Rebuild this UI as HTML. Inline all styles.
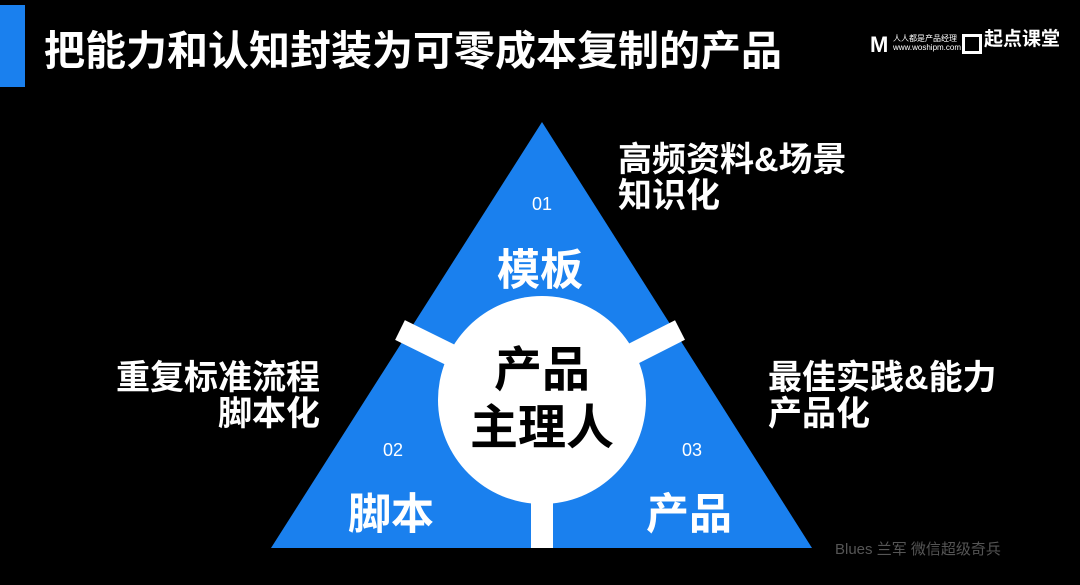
<!DOCTYPE html>
<html><head><meta charset="utf-8"><style>
body{margin:0;width:1080px;height:585px;background:#000;overflow:hidden;font-family:"Liberation Sans","Noto Sans CJK SC",sans-serif;position:relative}
.t{position:absolute;color:#fff;font-weight:bold;white-space:nowrap}
</style></head><body>
<div style="position:absolute;left:0;top:5px;width:25px;height:82px;background:#1a80ee"></div>
<div class="t" style="left:44px;top:26px;font-size:41px;line-height:50px">把能力和认知封装为可零成本复制的产品</div>
<div class="t" style="left:870px;top:32px;font-size:22px">M</div>
<div class="t" style="left:893px;top:34px;font-size:8px;line-height:9px;font-weight:normal">人人都是产品经理<br>www.woshipm.com</div>
<div style="position:absolute;left:962px;top:34px;width:14px;height:14px;border:3px solid #fff"></div>
<div class="t" style="left:984px;top:30px;font-size:19px;line-height:20px">起点课堂</div>
<svg style="position:absolute;left:0;top:0" width="1080" height="585">
<polygon points="542,122 271,548 812,548" fill="#1a80ee"/>
<g stroke="#fff" stroke-width="22">
<line x1="542" y1="400" x2="400" y2="330"/>
<line x1="542" y1="400" x2="680" y2="330"/>
<line x1="542" y1="400" x2="542" y2="548"/>
</g>
<circle cx="542" cy="400" r="104" fill="#fff"/>
<text x="542" y="210" fill="#fff" font-size="18" text-anchor="middle" font-family="Liberation Sans">01</text>
<text x="393" y="456" fill="#fff" font-size="18" text-anchor="middle" font-family="Liberation Sans">02</text>
<text x="692" y="456" fill="#fff" font-size="18" text-anchor="middle" font-family="Liberation Sans">03</text>
</svg>
<div class="t" style="left:497px;top:246px;font-size:43px;line-height:50px">模板</div>
<div class="t" style="left:348px;top:490px;font-size:43px;line-height:50px">脚本</div>
<div class="t" style="left:646px;top:490px;font-size:43px;line-height:50px">产品</div>
<div class="t" style="left:462px;top:342px;width:160px;text-align:center;color:#000;font-size:48px;line-height:58px">产品<br>主理人</div>
<div class="t" style="left:618px;top:142px;font-size:34px;line-height:36px">高频资料&amp;场景<br>知识化</div>
<div class="t" style="left:80px;top:360px;font-size:34px;line-height:36px;text-align:right;width:240px">重复标准流程<br>脚本化</div>
<div class="t" style="left:768px;top:360px;font-size:34px;line-height:36px">最佳实践&amp;能力<br>产品化</div>
<div class="t" style="left:835px;top:538px;font-size:15px;color:#555;font-weight:normal">Blues 兰军 微信超级奇兵</div>
</body></html>
